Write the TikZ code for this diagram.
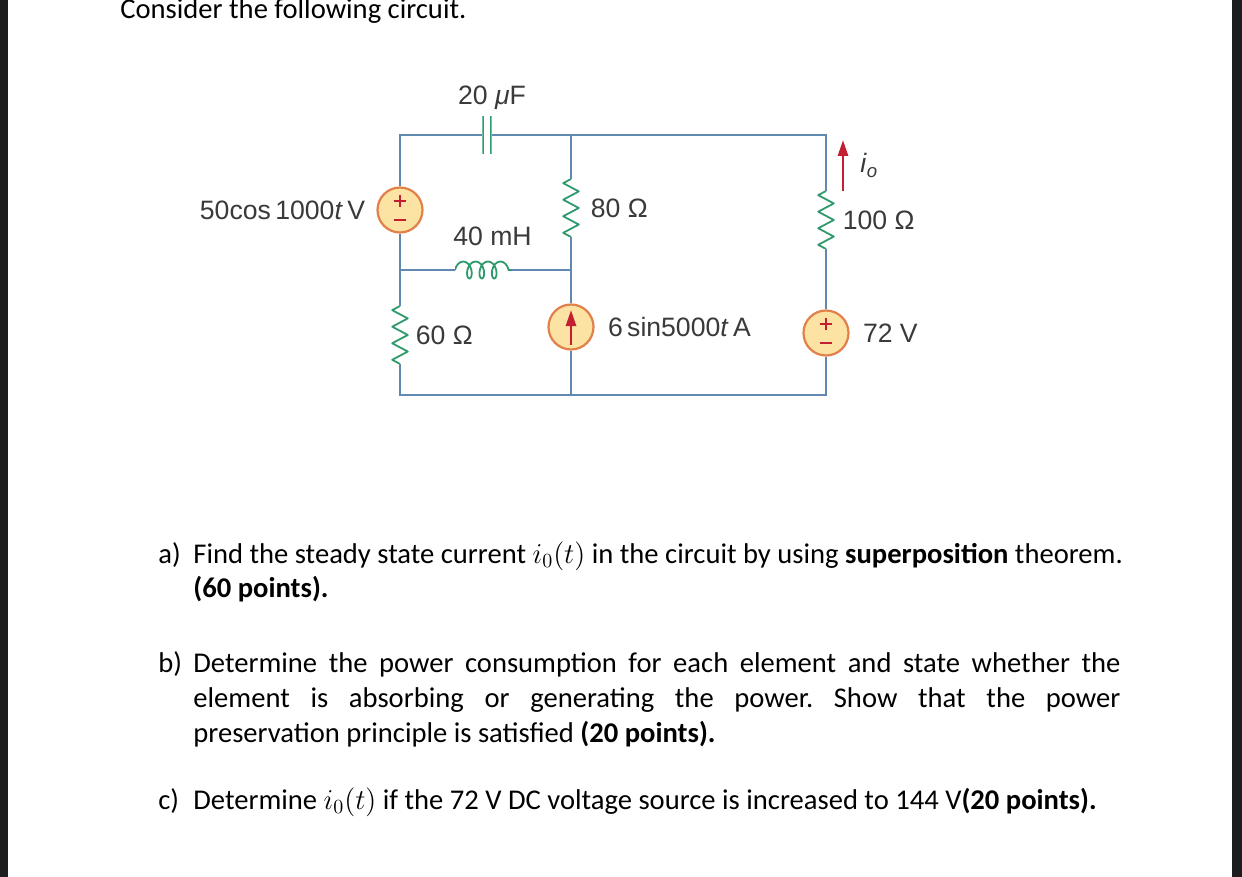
\documentclass[tikz,border=0pt]{standalone}
\usepackage{fontspec}
\setmainfont{Carlito}
\newfontfamily\partfont{Liberation Sans}
\usetikzlibrary{positioning,decorations.pathmorphing,arrows.meta}
\frenchspacing

\definecolor{wireblue}{HTML}{6189B0}
\definecolor{partgreen}{HTML}{2F9A6C}
\definecolor{srcedge}{HTML}{E2804A}
\definecolor{srcfill}{HTML}{FDE3A3}
\definecolor{curred}{HTML}{C22030}
\definecolor{labelgray}{HTML}{3A3A3A}
\definecolor{barblack}{HTML}{1D1D1F}

\newcommand{\qfont}{\fontsize{14.3}{17.5}\selectfont}

\tikzset{
  wire/.style={draw=wireblue,line width=0.9pt},
  part/.style={draw=partgreen,line width=0.9pt},
  curarrow/.style={draw=curred,line width=1.4pt,-{Triangle[length=8pt,width=5pt]}},
  src/.style={circle,draw=srcedge,fill=srcfill,line width=1.1pt,minimum size=22.5pt,inner sep=0pt},
  vsrc/.style={src,path picture={
      \draw[curred,line width=0.9pt] (path picture bounding box.center)
        +(-3pt,4.5pt) -- +(3pt,4.5pt) +(0,1.5pt) -- +(0,7.5pt)
        +(-3pt,-5pt) -- +(3pt,-5pt);}},
  isrc/.style={src,path picture={
      \draw[curarrow] (path picture bounding box.center) +(0,-9pt) -- +(0,8.5pt);}},
  resistor/.style={inner sep=0pt,minimum width=9.5pt,minimum height=29pt,
    path picture={\draw[part,line join=round] (path picture bounding box.north)
      -- ++(-3.9pt,-2.07pt) -- ++(7.8pt,-4.14pt) -- ++(-7.8pt,-4.14pt)
      -- ++(7.8pt,-4.14pt) -- ++(-7.8pt,-4.14pt) -- ++(7.8pt,-4.14pt)
      -- ++(-7.8pt,-4.14pt) -- ++(3.9pt,-2.07pt);}},
  capacitor/.style={inner sep=0pt,minimum width=4.6pt,minimum height=19pt,
    path picture={
      \draw[part] (path picture bounding box.north west) ++(0.45pt,0) -- ++(0,-19pt);
      \draw[part] (path picture bounding box.north east) ++(-0.45pt,0) -- ++(0,-19pt);}},
  inductor/.style={inner sep=0pt,minimum width=28.5pt,minimum height=12pt,
    path picture={\draw[part,decorate,decoration={coil,amplitude=4.25pt,segment length=6.2pt,aspect=0.6}]
      (path picture bounding box.west) -- (path picture bounding box.east);}},
  lbl/.style={inner sep=0pt,text=labelgray,font=\partfont\fontsize{13.3}{15}\selectfont},
  qtext/.style={anchor=base west,inner sep=0pt,font=\qfont}
}

\begin{document}
\begin{tikzpicture}[x=0.5pt,y=-0.5pt]
  \fill[white] (0,0) rectangle (1242,877);
  \useasboundingbox (0,0) rectangle (1242,877);
  \fill[barblack] (0,0) rectangle (8,877);
  \fill[barblack] (1232,0) rectangle (1242,877);

  % corners of the circuit
  \coordinate (tl) at (400,135);
  \coordinate (tm) at (571,135);
  \coordinate (tr) at (826,135);
  \coordinate (ml) at (400,270);
  \coordinate (mm) at (571,270);
  \coordinate (bl) at (400,395);
  \coordinate (bm) at (571,395);
  \coordinate (br) at (826,395);

  % parts
  \node[vsrc] (vs1) at (400,210) {};
  \node[capacitor] (cap) at (487,135) {};
  \node[inductor] (ind) at (483.5,270) {};
  \node[resistor] (r60) at (400,335) {};
  \node[resistor] (r80) at (571,208) {};
  \node[resistor] (r100) at (826,220) {};
  \node[isrc] (cs) at (571,327) {};
  \node[vsrc] (vs2) at (826,333) {};

  % labels
  \node[lbl,left=5.5pt of vs1] (lvs1) {50cos\,1000\textit{t}\,V};
  \node[lbl,above=3pt of cap,xshift=2.5pt] (lcap) {20 \textit{μ}F};
  \node[lbl,above=5.5pt of ind,xshift=4.5pt] (lind) {40 mH};
  \node[lbl,right=2.75pt of r60] (lr60) {60 Ω};
  \node[lbl,right=4.75pt of r80] (lr80) {80 Ω};
  \node[lbl,right=3.25pt of r100] (lr100) {100 Ω};
  \node[lbl,right=6.5pt of cs] (lcs) {6\,sin5000\textit{t}\,A};
  \node[lbl,right=6.5pt of vs2] (lvs2) {72 V};

  % wires
  \draw[wire] (vs1.north) -- (tl) -- (cap.west);
  \draw[wire] (cap.east) -- (tm) -- (tr) -- (r100.north);
  \draw[wire] (tm) -- (r80.north);
  \draw[wire] (r80.south) -- (mm) -- (cs.north);
  \draw[wire] (vs1.south) -- (ml) -- (r60.north);
  \draw[wire] (ml) -- (ind.west);
  \draw[wire] (ind.east) -- (mm);
  \draw[wire] (r60.south) -- (bl) -- (bm) -- (br) -- (vs2.south);
  \draw[wire] (cs.south) -- (bm);
  \draw[wire] (r100.south) -- (vs2.north);

  % current i_o
  \coordinate (iob) at (843,191);
  \coordinate (iot) at (843,140);
  \draw[curarrow] (iob) -- (iot) node[lbl,midway,right=8pt] (lio) {\textit{i}\textsubscript{\textit{o}}};

  % text
  \node[qtext] (intro) at (120,19) {Consider the following circuit.};
  \node[qtext] (tagA) at (158,563) {a)};
  \node[qtext] (qa1) at (193,563) {Find the steady state current $i_0(t)$ in the circuit by using \textbf{superposition} theorem.};
  \node[qtext] (qa2) at (193,597) {\textbf{(60 points).}};
  \node[qtext] (tagB) at (158,672) {b)};
  \node[qtext] (qb1) at (193,672) {\makebox[463.5pt][s]{Determine the power consumption for each element and state whether the}};
  \node[qtext] (qb2) at (193,707) {\makebox[463.5pt][s]{element is absorbing or generating the power. Show that the power}};
  \node[qtext] (qb3) at (193,742) {preservation principle is satisfied \textbf{(20 points).}};
  \node[qtext] (tagC) at (158,809) {c)};
  \node[qtext] (qc) at (193,809) {Determine $i_0(t)$ if the 72 V DC voltage source is increased to 144 V\textbf{(20 points).}};
\end{tikzpicture}
\end{document}
